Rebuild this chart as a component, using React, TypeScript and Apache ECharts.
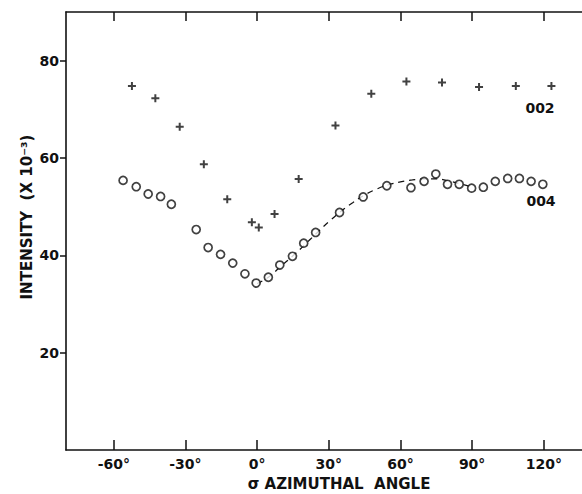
import React, { useEffect, useRef } from "react";
import * as echarts from "echarts";

const xTicks = [-60, -30, 0, 30, 60, 90, 120];
const yTicks = [20, 40, 60, 80];

const x002 = [-52.4, -42.6, -32.4, -22.3, -12.5, -2.2, 0.7, 7.3, 17.4, 32.8, 47.8, 62.5, 77.4, 92.9, 108.3, 123.2];
const y002 = [74.8, 72.3, 66.4, 58.7, 51.5, 46.8, 45.7, 48.5, 55.7, 66.7, 73.2, 75.7, 75.5, 74.6, 74.8, 74.8];

const x004 = [-56.1, -50.6, -45.6, -40.4, -35.9, -25.5, -20.5, -15.3, -10.2, -5.1, -0.4, 4.7, 9.5, 14.8, 19.5, 24.5, 34.5, 44.4, 54.3, 64.4, 69.9, 74.8, 79.7, 84.6, 89.8, 94.7, 99.7, 104.9, 109.8, 114.7, 119.6];
const y004 = [55.4, 54.1, 52.6, 52.1, 50.5, 45.3, 41.6, 40.2, 38.4, 36.2, 34.3, 35.5, 38.0, 39.8, 42.5, 44.7, 48.8, 52.0, 54.3, 53.9, 55.2, 56.7, 54.6, 54.6, 53.8, 54.0, 55.2, 55.8, 55.8, 55.2, 54.6];

const xFit = [0, 5, 10, 15, 20, 25, 30, 35, 40, 45, 50, 55, 60, 65, 70, 75, 80, 85, 90];
const yFit = [34.2, 35.6, 37.8, 39.9, 42.2, 44.6, 46.9, 49.0, 50.8, 52.4, 53.6, 54.5, 55.1, 55.5, 55.7, 55.7, 55.3, 54.7, 54.0];

const FONT = "DejaVu Sans";
const INK = "#111";

export default function App() {
  const ref = useRef<HTMLDivElement>(null);
  useEffect(() => {
    if (!ref.current) return;
    const chart = echarts.init(ref.current, null, { renderer: "svg" });
    const fmtDeg = (v: number) => `${v}°`;
    chart.setOption({
      animation: false,
      backgroundColor: "#fff",
      grid: { left: 66, top: 12, right: 0, bottom: 44, containLabel: false },
      xAxis: [
        {
          type: "value",
          min: -80,
          max: 136,
          position: "bottom",
          splitLine: { show: false },
          axisLine: { show: true, onZero: false, lineStyle: { color: INK, width: 1.6 } },
          axisTick: { show: true, inside: true, length: 10, customValues: xTicks, lineStyle: { color: INK, width: 1.5 } },
          axisLabel: {
            customValues: xTicks,
            formatter: fmtDeg,
            color: INK,
            fontFamily: FONT,
            fontWeight: "bold",
            fontSize: 14,
            margin: 7,
          },
        },
        {
          type: "value",
          min: -80,
          max: 136,
          position: "top",
          splitLine: { show: false },
          axisLine: { show: true, onZero: false, lineStyle: { color: INK, width: 1.6 } },
          axisTick: { show: true, inside: true, length: 9, customValues: xTicks, lineStyle: { color: INK, width: 1.5 } },
          axisLabel: { show: false },
        },
      ],
      yAxis: {
        type: "value",
        min: 0,
        max: 90,
        splitLine: { show: false },
        axisLine: { show: true, onZero: false, lineStyle: { color: INK, width: 1.6 } },
        axisTick: { show: true, inside: false, length: 6, customValues: yTicks, lineStyle: { color: INK, width: 1.5 } },
        axisLabel: {
          customValues: yTicks,
          color: INK,
          fontFamily: FONT,
          fontWeight: "bold",
          fontSize: 14,
          margin: 7,
        },
      },
      series: [
        {
          type: "line",
          name: "fit",
          data: xFit.map((x, i) => [x, yFit[i]]),
          showSymbol: false,
          smooth: true,
          lineStyle: { color: INK, width: 1.2, type: [6, 5] },
          z: 1,
        },
        {
          type: "scatter",
          name: "004",
          data: x004.map((x, i) => [x, y004[i]]),
          symbol: "circle",
          symbolSize: 8,
          itemStyle: { color: "#fff", borderColor: INK, borderWidth: 1.7 },
          z: 3,
        },
        {
          type: "scatter",
          name: "002",
          data: x002.map((x, i) => [x, y002[i]]),
          symbol: "path://M3,0H5V3H8V5H5V8H3V5H0V3H3Z",
          symbolSize: 8,
          itemStyle: { color: INK },
          z: 3,
        },
      ],
      graphic: [
        {
          type: "text",
          x: 540,
          y: 108,
          style: { text: "002", fill: INK, font: `bold 14px "${FONT}"`, align: "center", verticalAlign: "middle" },
        },
        {
          type: "text",
          x: 541,
          y: 201,
          style: { text: "004", fill: INK, font: `bold 14px "${FONT}"`, align: "center", verticalAlign: "middle" },
        },
        {
          type: "text",
          x: 339,
          y: 484,
          style: { text: "σ AZIMUTHAL  ANGLE", fill: INK, font: `bold 15px "${FONT}"`, align: "center", verticalAlign: "middle" },
        },
        {
          type: "text",
          x: 27,
          y: 217,
          rotation: Math.PI / 2,
          style: { text: "INTENSITY  (X 10⁻³)", fill: INK, font: `bold 15px "${FONT}"`, align: "center", verticalAlign: "middle" },
        },
      ],
    });
    return () => chart.dispose();
  }, []);
  return <div ref={ref} style={{ width: 582, height: 494, position: "fixed", left: 0, top: 0 }} />;
}
